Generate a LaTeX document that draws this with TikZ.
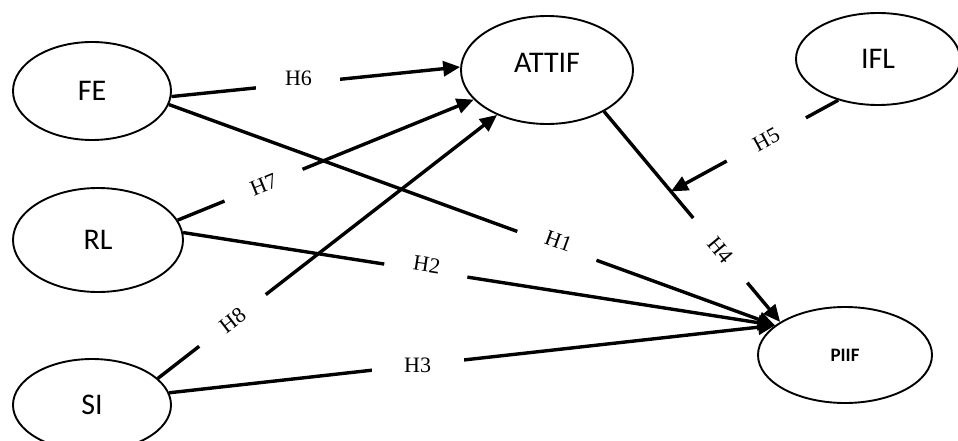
\documentclass[tikz,border=0pt]{standalone}
\usepackage{fontspec}
\newfontfamily\calib{Carlito}
\newfontfamily\hfont{Liberation Serif}
\usetikzlibrary{shapes.geometric,arrows.meta,calc}
\begin{document}
\begin{tikzpicture}[x=1pt,y=-1pt,
  var/.style={draw, ellipse, line width=1.9pt, inner sep=0pt, font=\calib\fontsize{30}{36}\selectfont},
  link/.style={line width=3.4pt, -{Triangle[length=17pt,width=15pt]}},
  hyp/.style={fill=white, inner sep=0pt, minimum width=84pt, minimum height=22pt, font=\hfont\fontsize{22}{26}\selectfont}]
\useasboundingbox (0,0) rectangle (958,441);
\node[var, minimum width=158pt, minimum height=98pt] (FE) at (92,91) {FE};
\node[var, minimum width=170pt, minimum height=104pt] (RL) at (98,240) {RL};
\node[var, minimum width=158pt, minimum height=92pt] (SI) at (92,405) {SI};
\node[var, minimum width=172pt, minimum height=108pt, text depth=14pt] (ATTIF) at (547,70) {ATTIF};
\node[var, minimum width=164pt, minimum height=92pt] (IFL) at (878,59) {IFL};
\node[var, minimum width=174pt, minimum height=96pt, font=\calib\bfseries\fontsize{19}{23}\selectfont] (PIIF) at (845,355) {PIIF};
% connectors
\draw[link] (FE.-4) -- (ATTIF.178);
\draw[link] (RL.14) -- (ATTIF.202);
\draw[link] (SI.22) -- (ATTIF.222);
\draw[link] (FE.-10) -- (PIIF.157);
\draw[link] (RL.5) -- (PIIF.157);
\draw[link] (SI.9) -- (PIIF.157);
\draw[link] (ATTIF.-36) -- (PIIF.153);
\coordinate (m) at ($(ATTIF.-36)!0.38!(PIIF.153)$);
\draw[link] (IFL.226) -- (m);
% labels
\path (FE.-4) -- (ATTIF.178) node[hyp, pos=0.44, yshift=5pt] (h6) {H6};
\path (RL.14) -- (ATTIF.202) node[hyp, pos=0.29, sloped] (h7) {H7};
\path (SI.22) -- (ATTIF.222) node[hyp, pos=0.22, sloped] (h8) {H8};
\path (FE.-10) -- (PIIF.157) node[hyp, pos=0.64, sloped, yshift=5pt] (h1) {H1};
\path (RL.5) -- (PIIF.157) node[hyp, pos=0.41, sloped, yshift=6pt] (h2) {H2};
\path (SI.9) -- (PIIF.157) node[hyp, pos=0.41, minimum width=92pt] (h3) {H3};
\path (ATTIF.-36) -- (PIIF.153) node[hyp, pos=0.66, sloped] (h4) {H4};
\path (IFL.226) -- (m) node[hyp, pos=0.43, sloped, minimum width=90pt] (h5) {H5};
\end{tikzpicture}
\end{document}
